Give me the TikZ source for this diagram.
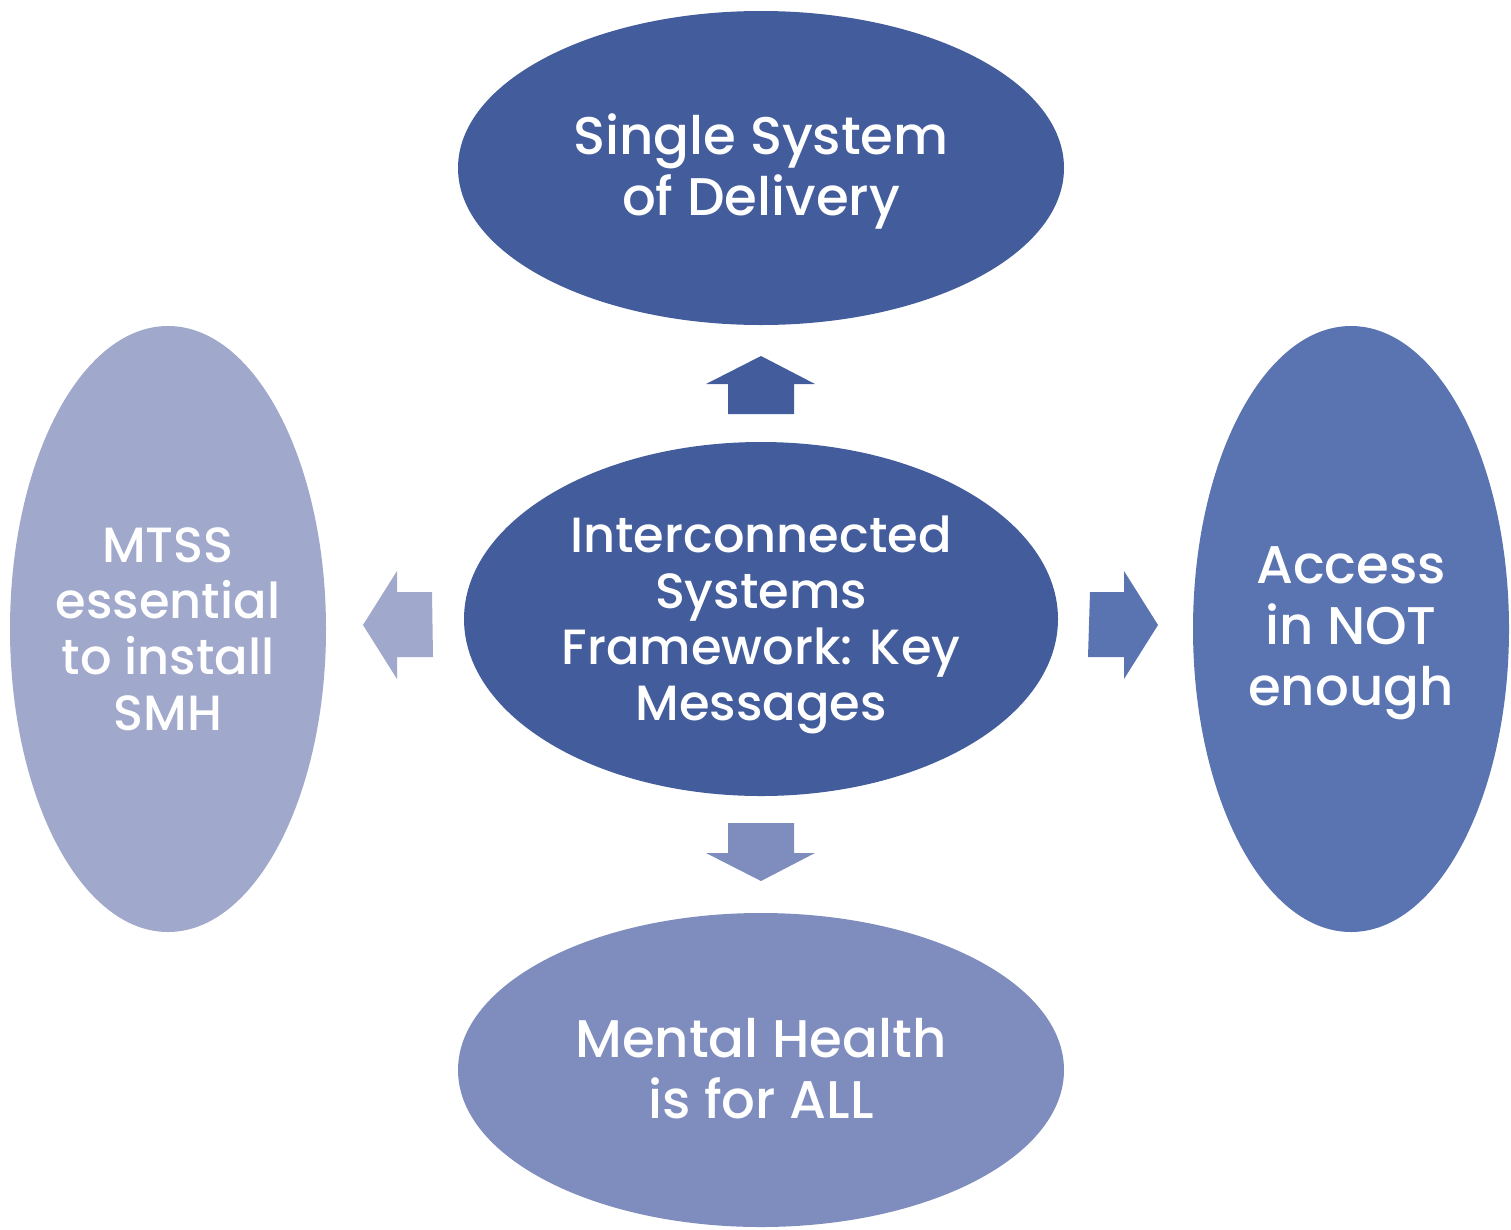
\documentclass[tikz,border=0pt]{standalone}
\usepackage{fontspec}
\setmainfont{Poppins Medium}
\usetikzlibrary{shapes.geometric}
\definecolor{cdark}{HTML}{435C9C}
\definecolor{cright}{HTML}{5A73B1}
\definecolor{cbottom}{HTML}{7F8DBE}
\definecolor{cleft}{HTML}{A0A8CB}
\tikzset{
  blob/.style={ellipse, draw=none, inner sep=0pt},
  txt/.style={text=white, align=center, inner sep=0pt},
  bigtxt/.style={txt, font=\fontsize{53}{61}\selectfont},
  midtxt/.style={txt, font=\fontsize{49.5}{56}\selectfont},
}
\begin{document}
\begin{tikzpicture}[x=1pt,y=-1pt]
\useasboundingbox (0,0) rectangle (1511,1229);
% ellipses
\node[blob, fill=cdark, minimum width=606pt, minimum height=314pt] (top) at (761,168) {};
\node[blob, fill=cdark, minimum width=594pt, minimum height=354pt] (center) at (761,619) {};
\node[blob, fill=cbottom, minimum width=606pt, minimum height=314pt] (bottom) at (761,1070) {};
\node[blob, fill=cleft, minimum width=316pt, minimum height=606pt] (left) at (168,629) {};
\node[blob, fill=cright, minimum width=316pt, minimum height=606pt] (right) at (1351,629) {};
% texts
\node[bigtxt] (toptext) at ([yshift=-3pt]top.center) {Single System\\of Delivery};
\node[midtxt] (centertext) at ([yshift=-6pt]center.center) {Interconnected\\Systems\\Framework: Key\\Messages};
\node[bigtxt] (bottomtext) at ([yshift=1pt]bottom.center) {Mental Health\\is for ALL};
\node[midtxt] (lefttext) at ([yshift=0pt]left.center) {MTSS\\essential\\to install\\SMH};
\node[bigtxt] (righttext) at ([yshift=-4pt]right.center) {Access\\in NOT\\enough};
% arrows
\fill[cdark] (728,414) -- (728,384) -- (706,384) -- (761,356) -- (815,384) -- (794,384) -- (794,414) -- cycle;
\fill[cbottom] (728,823) -- (728,853) -- (706,853) -- (761,881) -- (815,853) -- (794,853) -- (794,823) -- cycle;
\fill[cleft] (432,592) -- (397,592) -- (397,571) -- (363,625) -- (397,679) -- (397,657) -- (433,657) -- cycle;
\fill[cright] (1090,592) -- (1124,592) -- (1124,571) -- (1158,625) -- (1124,679) -- (1124,657) -- (1088,657) -- cycle;
\end{tikzpicture}
\end{document}
